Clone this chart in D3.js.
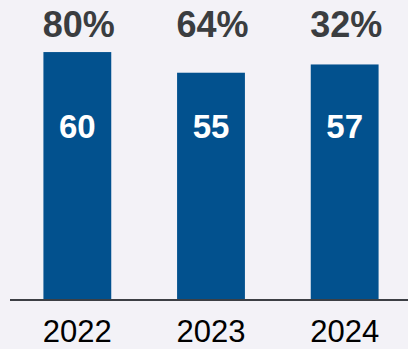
<!DOCTYPE html>
<html>
<head>
<meta charset="utf-8">
<script src="https://cdn.jsdelivr.net/npm/d3@7"></script>
<style>
  html, body { margin: 0; padding: 0; background: #f3f2f7; }
  svg { display: block; }
</style>
</head>
<body>
<svg id="chart" width="408" height="349"></svg>
<script>
const years = ["2022", "2023", "2024"];
const values = [60, 55, 57];
const percentLabels = ["80%", "64%", "32%"];

const W = 408, H = 349;
const svg = d3.select("#chart");
svg.append("rect").attr("width", W).attr("height", H).attr("fill", "#f3f2f7");

const x = d3.scaleBand().domain(years).range([10, 412]).paddingInner(0.4925).paddingOuter(0.25);
const y = d3.scaleLinear().domain([0, 72.6]).range([300, 0]);

const g = svg.append("g");

g.selectAll("rect.bar").data(values).join("rect")
  .attr("class", "bar")
  .attr("x", (d, i) => x(years[i]))
  .attr("width", x.bandwidth())
  .attr("y", d => y(d))
  .attr("height", d => y(0) - y(d))
  .attr("fill", "#02518e");

// value labels inside bars
g.selectAll("text.val").data(values).join("text")
  .attr("class", "val")
  .attr("x", (d, i) => x(years[i]) + x.bandwidth() / 2)
  .attr("y", 138)
  .attr("text-anchor", "middle")
  .attr("fill", "#ffffff")
  .attr("font-family", "'Liberation Sans', Arial, sans-serif")
  .attr("font-weight", "bold")
  .attr("font-size", 33)
  .text(d => d);

// percentage labels on top
g.selectAll("text.pct").data(percentLabels).join("text")
  .attr("class", "pct")
  .attr("x", (d, i) => x(years[i]) + x.bandwidth() / 2 + 1.5)
  .attr("y", 37)
  .attr("text-anchor", "middle")
  .attr("fill", "#3a3d40")
  .attr("font-family", "'Liberation Sans', Arial, sans-serif")
  .attr("font-weight", "bold")
  .attr("font-size", 36)
  .text(d => d);

// x axis
const xAxis = d3.axisBottom(x).tickSize(0).tickPadding(0);
const ax = svg.append("g").attr("transform", `translate(0,${y(0)})`).call(xAxis);
ax.select(".domain").remove();
ax.append("line").attr("x1", 10).attr("x2", 408).attr("y1", 0).attr("y2", 0)
  .attr("stroke", "#3c3f44").attr("stroke-width", 2);
ax.selectAll(".tick text")
  .attr("y", 42)
  .attr("dy", 0)
  .attr("fill", "#000000")
  .attr("font-family", "'Liberation Sans', Arial, sans-serif")
  .attr("font-size", 31);
</script>
</body>
</html>
